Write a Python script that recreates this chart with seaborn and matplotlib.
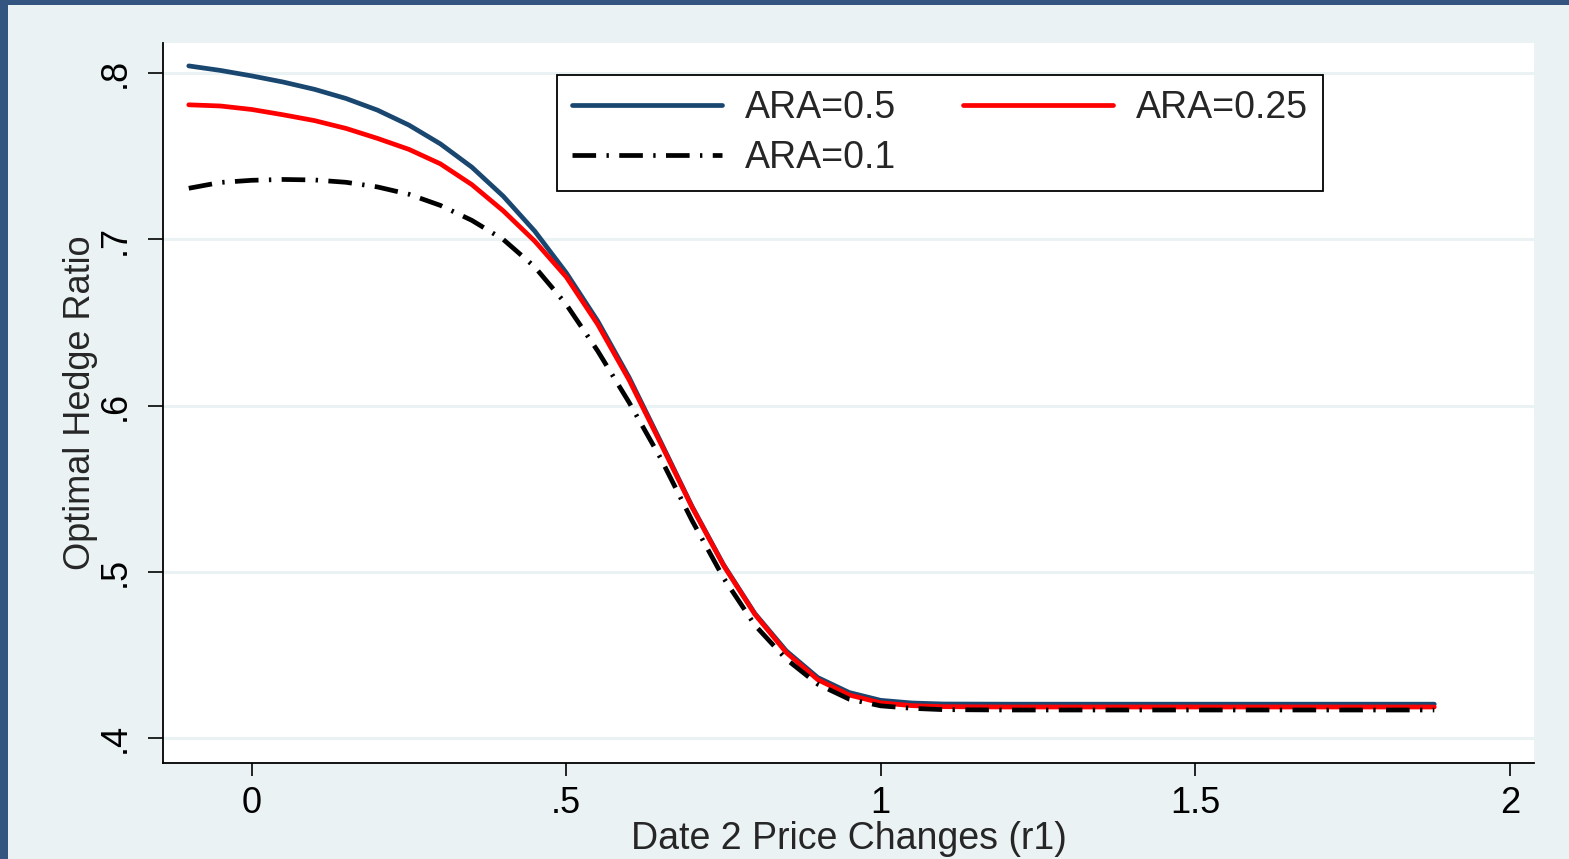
import numpy as np
import pandas as pd
import matplotlib
matplotlib.use("Agg")
import matplotlib.pyplot as plt
import seaborn as sns
from matplotlib.patches import Rectangle

# ---------------- data ----------------
r1 = [-0.10, -0.05, 0.00, 0.05, 0.10, 0.15, 0.20, 0.25, 0.30, 0.35, 0.40, 0.45,
      0.50, 0.55, 0.60, 0.65, 0.70, 0.75, 0.80, 0.85, 0.90, 0.95, 1.00, 1.05,
      1.10, 1.20, 1.30, 1.40, 1.50, 1.60, 1.70, 1.80, 1.88]

ara_050 = [0.8044, 0.8017, 0.7984, 0.7947, 0.7903, 0.7848, 0.7778, 0.7688, 0.7575,
           0.7435, 0.7260, 0.7050, 0.6800, 0.6510, 0.6170, 0.5785, 0.5395, 0.5045,
           0.4750, 0.4525, 0.4365, 0.4275, 0.4228, 0.4212, 0.4206, 0.4205, 0.4205,
           0.4205, 0.4205, 0.4205, 0.4205, 0.4205, 0.4205]

ara_025 = [0.7810, 0.7803, 0.7782, 0.7750, 0.7715, 0.7668, 0.7608, 0.7542, 0.7455,
           0.7330, 0.7172, 0.6990, 0.6775, 0.6490, 0.6155, 0.5775, 0.5390, 0.5040,
           0.4745, 0.4515, 0.4352, 0.4260, 0.4213, 0.4196, 0.4190, 0.4188, 0.4188,
           0.4188, 0.4188, 0.4188, 0.4188, 0.4188, 0.4188]

ara_010 = [0.7308, 0.7343, 0.7356, 0.7361, 0.7358, 0.7344, 0.7316, 0.7272, 0.7205,
           0.7115, 0.7000, 0.6835, 0.6610, 0.6330, 0.6020, 0.5685, 0.5310, 0.4965,
           0.4680, 0.4475, 0.4325, 0.4235, 0.4195, 0.4180, 0.4172, 0.4170, 0.4170,
           0.4170, 0.4170, 0.4170, 0.4170, 0.4170, 0.4170]

series_labels = ["ARA=0.5", "ARA=0.25", "ARA=0.1"]
x_ticks = [0, 0.5, 1, 1.5, 2]
x_ticklabels = ["0", ".5", "1", "1.5", "2"]
y_ticks = [0.4, 0.5, 0.6, 0.7, 0.8]
y_ticklabels = [".4", ".5", ".6", ".7", ".8"]

# ---------------- style ----------------
sns.set_style("white")
plt.rcParams["font.family"] = ["Liberation Sans", "DejaVu Sans"]

BG = "#eaf2f3"
fig = plt.figure(figsize=(15.69, 8.59), dpi=100, facecolor=BG)
ax = fig.add_axes([163.3 / 1569, 1 - 762.7 / 859, (1534.3 - 163.3) / 1569, (762.7 - 43.3) / 859])
ax.set_facecolor("white")

# frame of the slide
fig.patches.append(Rectangle((0, 0), 7.5 / 1569, 1, transform=fig.transFigure,
                             facecolor="#34557f", edgecolor="none", zorder=0))
fig.patches.append(Rectangle((0, 1 - 4.5 / 859), 1, 4.5 / 859, transform=fig.transFigure,
                             facecolor="#34557f", edgecolor="none", zorder=0))

df = pd.DataFrame({"r1": r1, "a05": ara_050, "a025": ara_025, "a01": ara_010})

for y in y_ticks:
    ax.axhline(y, color=BG, lw=2.2, zorder=0.5)

sns.lineplot(data=df, x="r1", y="a05", ax=ax, color="#1a476f", lw=3.4,
             label=series_labels[0], zorder=3)
sns.lineplot(data=df, x="r1", y="a025", ax=ax, color="#ff0000", lw=3.4,
             label=series_labels[1], zorder=4)
sns.lineplot(data=df, x="r1", y="a01", ax=ax, color="black", lw=3.4,
             linestyle=(0, (5, 2.2, 0.5, 2.2)), label=series_labels[2], zorder=5)

ax.set_xlim(-0.1405, 2.039)
ax.set_ylim(0.3853, 0.818)

ax.set_xticks(x_ticks)
ax.set_xticklabels(x_ticklabels)
ax.set_yticks(y_ticks)
ax.set_yticklabels(y_ticklabels, rotation=90, va="center")

ax.tick_params(axis="x", direction="out", length=9.5, width=1.2, pad=7,
               labelsize=26, colors="black", bottom=True)
ax.tick_params(axis="y", direction="out", length=11, width=1.2, pad=11,
               labelsize=26, colors="black", left=True)

for s in ["top", "right"]:
    ax.spines[s].set_visible(False)
for s in ["left", "bottom"]:
    ax.spines[s].set_color("black")
    ax.spines[s].set_linewidth(1.3)

ax.set_xlabel("Date 2 Price Changes (r1)", fontsize=27, labelpad=0.5)
ax.set_ylabel("Optimal Hedge Ratio", fontsize=26, labelpad=0)

# legend order: row1: 0.5, 0.25 ; row2: 0.1
handles, labels = ax.get_legend_handles_labels()
order = [0, 2, 1]
leg = ax.legend([handles[i] for i in order], [labels[i] for i in order],
                ncol=2, loc="upper left",
                bbox_to_anchor=(557 / 1569, 1 - 75 / 859), bbox_transform=fig.transFigure,
                borderaxespad=0, fontsize=27, frameon=True, fancybox=False,
                handlelength=4.0, handletextpad=0.6, columnspacing=1.8,
                labelspacing=0.37, borderpad=0.4)
frame = leg.get_frame()
frame.set_edgecolor("black")
frame.set_linewidth(1.3)
frame.set_facecolor("white")
frame.set_alpha(1)

fig.savefig("out.png", dpi=100, facecolor=BG)
